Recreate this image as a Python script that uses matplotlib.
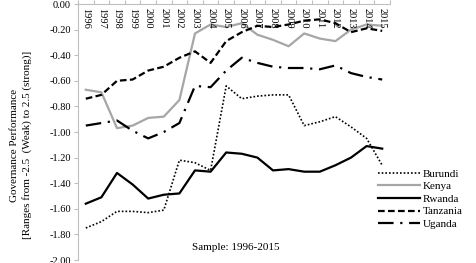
import numpy as np
import matplotlib
matplotlib.use('Agg')
import matplotlib.pyplot as plt

plt.rcParams['font.family'] = ['Liberation Serif', 'DejaVu Serif']

years = [str(y) for y in range(1996, 2016)]
burundi = [-1.75, -1.70, -1.62, -1.62, -1.63, -1.61, -1.22, -1.24, -1.30, -0.64,
           -0.74, -0.72, -0.71, -0.71, -0.95, -0.92, -0.88, -0.96, -1.05, -1.26]
kenya = [-0.67, -0.69, -0.97, -0.95, -0.89, -0.88, -0.75, -0.23, -0.16, -0.18,
         -0.15, -0.24, -0.28, -0.33, -0.23, -0.27, -0.29, -0.20, -0.16, -0.17]
rwanda = [-1.56, -1.51, -1.32, -1.41, -1.52, -1.49, -1.48, -1.30, -1.31, -1.16,
          -1.17, -1.20, -1.30, -1.29, -1.31, -1.31, -1.26, -1.20, -1.11, -1.13]
tanzania = [-0.74, -0.71, -0.60, -0.59, -0.52, -0.49, -0.42, -0.37, -0.46, -0.29,
            -0.22, -0.17, -0.18, -0.16, -0.13, -0.12, -0.15, -0.22, -0.19, -0.21]
uganda = [-0.95, -0.93, -0.91, -0.99, -1.05, -1.00, -0.93, -0.64, -0.65, -0.52,
          -0.42, -0.46, -0.49, -0.50, -0.50, -0.51, -0.48, -0.54, -0.57, -0.59]

x = np.arange(len(years))

fig = plt.figure(figsize=(4.76, 2.63), dpi=100)
ax = fig.add_axes([78 / 476, 3 / 263, 312 / 476, 256 / 263])

ax.plot(x, burundi, color='black', linestyle=(0, (1, 1.2)), linewidth=1.2, label='Burundi')
ax.plot(x, kenya, color='#a6a6a6', linestyle='-', linewidth=1.6, label='Kenya')
ax.plot(x, rwanda, color='black', linestyle='-', linewidth=1.6, label='Rwanda')
ax.plot(x, tanzania, color='black', linestyle=(0, (3, 1.5)), linewidth=1.6, label='Tanzania')
ax.plot(x, uganda, color='black', linestyle=(0, (7, 3, 1, 3)), linewidth=1.6, label='Uganda')

ax.set_xlim(-0.5, len(years) - 0.5)
ax.set_ylim(-2.0, 0.0)
yt = np.round(np.arange(-2.0, 0.01, 0.2), 2)
ax.set_yticks(yt)
ax.set_yticklabels([f'{abs(v):.2f}' if v == 0 else f'{v:.2f}' for v in yt], fontsize=7.5)
ax.tick_params(axis='y', length=3, color='#bfbfbf', pad=2)

# category axis sits at the top, year labels hang below it
ax.xaxis.tick_top()
ax.set_xticks(np.arange(-0.5, len(years), 1.0))
ax.set_xticklabels([])
ax.tick_params(axis='x', length=3, color='#bfbfbf', direction='out')
for i, yr in enumerate(years):
    ax.text(i, -0.03, yr, rotation=-90, ha='center', va='top', fontsize=7.5)

for s in ['right', 'bottom']:
    ax.spines[s].set_visible(False)
ax.spines['left'].set_color('#bfbfbf')
ax.spines['top'].set_color('#bfbfbf')

fig.text(15 / 476, 1 - 145 / 263, 'Governance Performance', rotation=90,
         ha='center', va='center', fontsize=8)
fig.text(27 / 476, 1 - 145 / 263, '[Ranges from -2.5  (Weak) to 2.5 (strong)]', rotation=90,
         ha='center', va='center', fontsize=8)

fig.text(236 / 476, 1 - 248 / 263, 'Sample: 1996-2015', ha='center', va='center', fontsize=8)

fig.legend(loc='upper left', bbox_to_anchor=(378 / 476, 1 - 169 / 263), frameon=False,
           fontsize=8, handlelength=3.8, handletextpad=0.2, labelspacing=0.25,
           borderpad=0, borderaxespad=0)

fig.savefig('out.png', dpi=100)
